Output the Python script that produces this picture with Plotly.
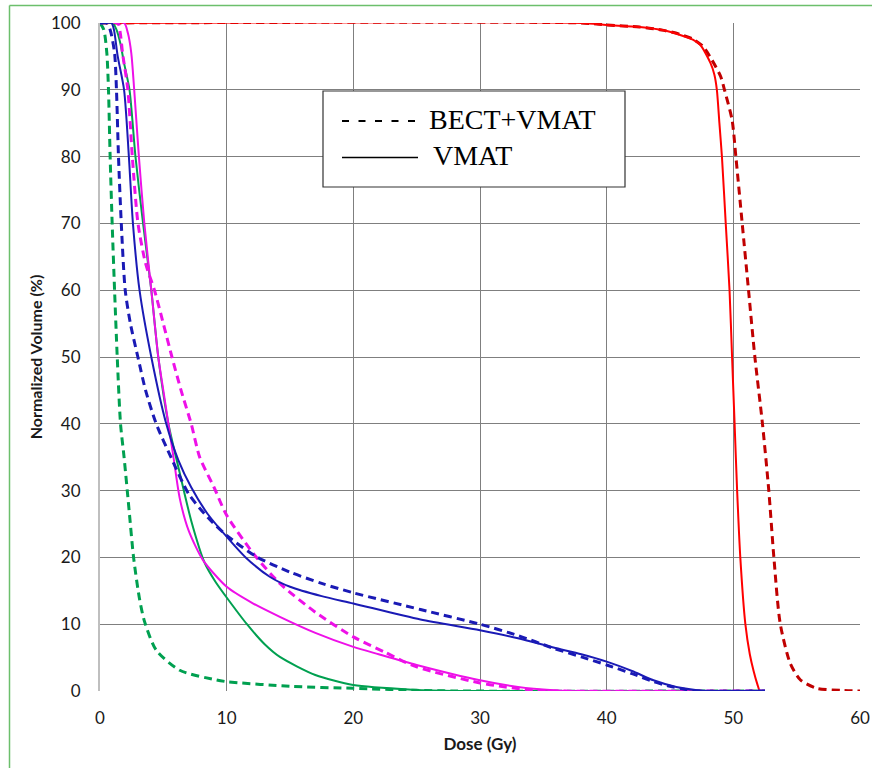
import plotly.graph_objects as go

# ---- data (Dose in Gy, Normalized volume in %) ----
red_vmat_x = [0, 38, 40, 42.6, 44.5, 45.8, 46.8, 47.4, 48.2, 48.5, 48.7, 48.9, 49.1, 49.4, 49.7, 49.9, 50.1, 50.3, 50.55, 50.95, 51.3, 51.6, 51.9, 52.1, 52.5]
red_vmat_y = [100, 100, 99.7, 99.4, 98.9, 98.2, 97.5, 96.7, 94, 92.3, 90, 85, 80, 70, 60, 50, 40, 30, 20, 10, 5.5, 3, 1, 0, 0]

red_bect_x = [0, 38, 40, 42.6, 44.5, 45.8, 46.8, 47.6, 48.3, 49.0, 49.3, 49.9, 50.2, 50.7, 51.2, 51.7, 52.3, 52.8, 53.2, 53.7, 54.5, 55.3, 56.6, 58.5, 60]
red_bect_y = [100, 100, 99.7, 99.4, 98.9, 98.3, 97.6, 96.5, 94.5, 92, 90, 85.5, 80, 70, 60, 50, 40, 30, 20, 10.1, 4.1, 1.65, 0.4, 0.1, 0]

green_bect_x = [0, 0.3, 0.54, 0.67, 0.8, 0.96, 1.15, 1.36, 1.62, 1.9, 2.3, 2.65, 3.1, 3.5, 4.44, 6.3, 9.2, 10, 15, 20, 25, 28, 52.5]
green_bect_y = [100, 99, 95.5, 90, 80, 70, 60, 50, 40, 35, 27, 20, 14, 10.5, 6.1, 3.1, 1.65, 1.4, 0.7, 0.4, 0.1, 0, 0]

green_vmat_x = [0, 1.0, 1.3, 1.6, 1.9, 2.33, 2.8, 3.4, 4.05, 4.6, 5.4, 6.3, 7.2, 8.26, 9.1, 10, 11.6, 13, 14.2, 17, 20, 24.7, 28, 52.5]
green_vmat_y = [100, 100, 99, 97, 94, 90, 80, 70, 60, 50, 40, 32.6, 25.5, 19.2, 16.4, 14.0, 10.0, 7.0, 5.1, 2.4, 0.9, 0.2, 0, 0]

mag_bect_x = [0, 1.4, 1.6, 1.78, 2.2, 2.55, 3.0, 3.6, 4.3, 5.0, 5.68, 6.4, 7.2, 7.87, 9, 10, 12.1, 14.2, 17, 20, 22.5, 25, 30, 32, 34.5, 36, 52.5]
mag_bect_y = [100, 100, 98.5, 95.5, 90, 80, 70, 64, 60, 55, 50, 45, 40, 35, 30.5, 26.3, 20.6, 16.1, 11.8, 8.1, 5.8, 3.6, 1.2, 0.6, 0.1, 0, 0]

mag_vmat_x = [0, 1.9, 2.2, 2.47, 2.7, 3.07, 3.5, 4.05, 4.6, 5.0, 5.4, 5.8, 6.3, 7.0, 8.13, 10, 12, 14.2, 17, 20, 22, 25, 30, 33, 35.8, 37, 52.5]
mag_vmat_y = [100, 100, 98.5, 95.5, 90, 80, 70, 60, 50, 45, 40, 35, 28.8, 24, 19.6, 15.6, 13.2, 11.1, 8.7, 6.6, 5.5, 3.9, 1.6, 0.6, 0.1, 0, 0]

blue_bect_x = [0, 0.5, 0.8, 1.15, 1.3, 1.46, 1.68, 1.99, 2.4, 2.99, 3.6, 4.44, 5.6, 7, 8.5, 10, 12.35, 15, 17.5, 20, 25.3, 30, 33, 35.8, 38, 40, 42, 43.7, 45, 46.3, 47, 52.5]
blue_bect_y = [100, 100, 99, 95.5, 90, 80, 70, 60, 55, 50, 45, 40, 35, 29.5, 26, 23.3, 20.1, 17.8, 16.1, 14.7, 12.2, 10, 8.3, 6.4, 5.1, 3.9, 2.6, 1.4, 0.7, 0.2, 0, 0]

blue_vmat_x = [0, 0.9, 1.1, 1.4, 1.9, 2.28, 2.6, 3.12, 4.05, 5.23, 6.2, 7.2, 8.5, 10, 11.5, 13.4, 15, 17.5, 20, 25.3, 30, 33, 35.8, 38, 40, 42, 43.7, 45.5, 47.6, 48.5, 52.5]
blue_vmat_y = [100, 100, 99, 95, 90, 80, 70, 60, 50, 40, 34.5, 30.5, 26.5, 23.1, 20, 17.1, 15.6, 14.2, 13.1, 10.7, 9.1, 7.9, 6.5, 5.5, 4.4, 3.0, 1.6, 0.6, 0.05, 0, 0]

x_ticks = [0, 10, 20, 30, 40, 50, 60]
y_ticks = [0, 10, 20, 30, 40, 50, 60, 70, 80, 90, 100]

RED, DARKRED = "#FF0000", "#C00000"
GREEN, MAGENTA, BLUE = "#00A050", "#EE10E8", "#1A1AB5"
DASH = "8px,5px"

series = [
    (red_bect_x, red_bect_y, DARKRED, True),
    (red_vmat_x, red_vmat_y, RED, False),
    (green_bect_x, green_bect_y, GREEN, True),
    (green_vmat_x, green_vmat_y, GREEN, False),
    (mag_bect_x, mag_bect_y, MAGENTA, True),
    (mag_vmat_x, mag_vmat_y, MAGENTA, False),
    (blue_bect_x, blue_bect_y, BLUE, True),
    (blue_vmat_x, blue_vmat_y, BLUE, False),
]

fig = go.Figure()
for xs, ys, col, dashed in series:
    fig.add_trace(go.Scatter(
        x=xs, y=ys, mode="lines", showlegend=False, hoverinfo="skip",
        line=dict(color=col, width=3 if dashed else 2, dash=DASH if dashed else "solid",
                  shape="spline", smoothing=0.7),
        cliponaxis=False,
    ))

W, H = 873, 769
ML, MR, MT, MB = 100, 13, 23, 78
PW, PH = W - ML - MR, H - MT - MB

def px(xp):
    return (xp - ML) / PW

def py(yp):
    return (H - MB - yp) / PH

FRAME = "#6CBF6C"
shapes = [
    # thin green outer frame (left and top edges)
    dict(type="line", xref="paper", yref="paper", x0=px(9.5), x1=px(9.5), y0=py(768), y1=py(5.5),
         line=dict(color=FRAME, width=1.5), layer="above"),
    dict(type="line", xref="paper", yref="paper", x0=px(9.5), x1=px(872), y0=py(5.5), y1=py(5.5),
         line=dict(color=FRAME, width=1.5), layer="above"),
    dict(type="rect", xref="paper", yref="paper", x0=px(323), x1=px(625), y0=py(187), y1=py(91),
         line=dict(color="#333333", width=1.2), fillcolor="white", layer="above"),
    dict(type="line", xref="paper", yref="paper", x0=px(342), x1=px(419), y0=py(121), y1=py(121),
         line=dict(color="black", width=2, dash="7px,9.5px")),
    dict(type="line", xref="paper", yref="paper", x0=px(342), x1=px(418), y0=py(157.5), y1=py(157.5),
         line=dict(color="black", width=1.3)),
]

annotations = [
    dict(text="BECT+VMAT", xref="paper", yref="paper", x=px(427), y=py(119), xanchor="left", yanchor="middle",
         showarrow=False, font=dict(family="Liberation Serif", size=28, color="black")),
    dict(text="VMAT", xref="paper", yref="paper", x=px(430.5), y=py(155), xanchor="left", yanchor="middle",
         showarrow=False, font=dict(family="Liberation Serif", size=28, color="black")),
]

fig.update_layout(
    width=W, height=H,
    margin=dict(l=ML, r=MR, t=MT, b=MB),
    paper_bgcolor="white", plot_bgcolor="white",
    shapes=shapes, annotations=annotations,
    font=dict(family="Lato", color="#1a1a1a"),
)
fig.update_xaxes(
    range=[0, 60], tickvals=x_ticks, ticktext=[str(v) for v in x_ticks], automargin=False,
    showgrid=True, gridcolor="#7F7F7F", gridwidth=1, zeroline=False,
    showline=False, ticks="outside", ticklen=12, tickcolor="rgba(0,0,0,0)",
    tickfont=dict(family="Lato", size=17, color="#1a1a1a"),
    title=dict(text="<b>Dose (Gy)</b>", font=dict(family="Lato", size=17, color="#1a1a1a"), standoff=10),
)
fig.update_yaxes(
    range=[0, 100], tickvals=y_ticks, ticktext=[str(v) for v in y_ticks], automargin=False,
    showgrid=True, gridcolor="#7F7F7F", gridwidth=1, zeroline=False,
    showline=True, linecolor="#BFBFBF", linewidth=2,
    ticks="outside", ticklen=14, tickcolor="rgba(0,0,0,0)",
    tickfont=dict(family="Lato", size=17, color="#1a1a1a"),
    title=dict(text="<b>Normalized Volume (%)</b>", font=dict(family="Lato", size=16, color="#1a1a1a"), standoff=4),
)

fig.write_html("out.html")
